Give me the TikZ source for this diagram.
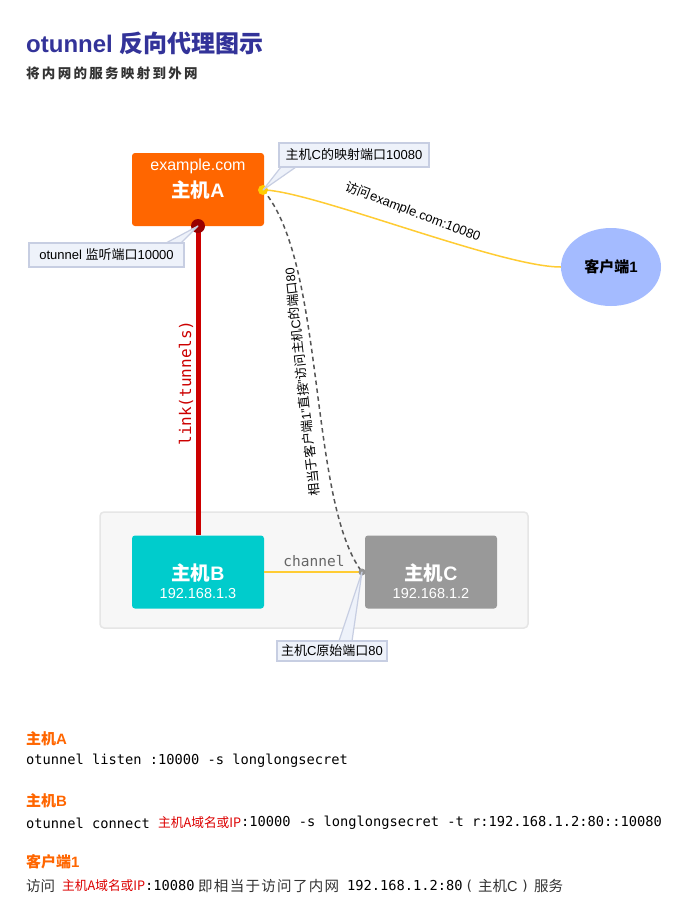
\documentclass[tikz,border=0pt]{standalone}
\usepackage{fontspec}
\usepackage{graphicx}
\setmainfont{Liberation Sans}
\newfontfamily\cjk{Noto Sans CJK SC}
\newfontfamily\cjksp[LetterSpace=17]{Noto Sans CJK SC}
\newfontfamily\cjkwide[LetterSpace=9]{Noto Sans CJK SC}
\newfontfamily\mono{DejaVu Sans Mono}
\usetikzlibrary{shapes.geometric}
\definecolor{titleblue}{HTML}{333399}
\definecolor{subgray}{HTML}{333333}
\definecolor{orangeA}{HTML}{FF6600}
\definecolor{cyanB}{HTML}{00CCCC}
\definecolor{grayC}{HTML}{999999}
\definecolor{clientblue}{HTML}{A4BBFF}
\definecolor{calloutfill}{HTML}{EEF2FA}
\definecolor{calloutdraw}{HTML}{C7CEE2}
\definecolor{linkred}{HTML}{CC0000}
\definecolor{dotred}{HTML}{990000}
\definecolor{ylw}{HTML}{FFCC33}
\definecolor{ydot}{HTML}{FFCC00}
\definecolor{groupfill}{HTML}{F7F7F7}
\definecolor{groupdraw}{HTML}{E6E6E6}
\definecolor{dashgray}{HTML}{555555}
\definecolor{chgray}{HTML}{666666}
\definecolor{txtred}{HTML}{DD0000}
\newcommand\fs[1]{\fontsize{#1}{#1}\selectfont}
\newcommand\redip{\resizebox{83pt}{\height}{\cjk\fs{13}主机A域名或IP}}
\tikzset{
  hostbox/.style={rectangle, rounded corners=3pt, minimum width=132pt, minimum height=73pt, inner sep=0pt},
  hosttxt/.style={inner sep=0pt, text=white},
  callout/.style={rectangle, draw=calloutdraw, fill=calloutfill, line width=1.5pt, inner sep=0pt, minimum height=24pt, font=\fs{13}},
  wedge/.style={draw=calloutdraw, fill=calloutfill, line width=1.2pt, line join=round},
  plain/.style={inner sep=0pt},
  heading/.style={inner sep=0pt, anchor=west, text=orangeA, font=\bfseries\fs{15}},
  code/.style={inner sep=0pt, anchor=west, font=\mono\fs{13.7}, text=black},
}
\begin{document}
\begin{tikzpicture}[x=1pt,y=-1pt]
\useasboundingbox (0,0) rectangle (687,921);
\fill[white] (0,0) rectangle (687,921);

% title
\node[plain, anchor=base west, text=titleblue, font=\bfseries\fs{24}] (title) at (26,52) {otunnel {\cjk 反向代理图示}};
\node[plain, anchor=base west, text=subgray, font=\cjksp\bfseries\fs{13.5}] (subtitle) at (26,78) {将内网的服务映射到外网};

% group
\node[draw=groupdraw, fill=groupfill, rounded corners=4pt, minimum width=428pt, minimum height=116pt, line width=1.5pt] (group) at (314,570) {};

% hosts
\node[hostbox, fill=cyanB] (B) at (198,572) {};
\node[hosttxt, font=\bfseries\fs{19.5}] (Bname) at (198,573) {{\cjk 主机}B};
\node[hosttxt, font=\fs{14.5}] (Bip) at (198,594) {192.168.1.3};

\node[hostbox, fill=grayC] (C) at (431,572) {};
\node[hosttxt, font=\bfseries\fs{19.5}] (Cname) at (431,573) {{\cjk 主机}C};
\node[hosttxt, font=\fs{14.5}] (Cip) at (431,594) {192.168.1.2};

\node[hostbox, fill=orangeA] (A) at (198,189.5) {};
\node[hosttxt, font=\fs{16}] (Aurl) at (198,166) {example.com};
\node[hosttxt, font=\bfseries\fs{19.5}] (Aname) at (198,190) {{\cjk 主机}A};

% client
\node[ellipse, fill=clientblue, minimum width=100pt, minimum height=78pt, inner sep=0pt, font=\bfseries\fs{15}] (client) at (611,267) {{\cjk 客户端}1};

% anchor points
\coordinate (dA) at (198,226);
\coordinate (dY) at (263,190);
\coordinate (dC) at (362,572);

% red link
\draw[linkred, line width=5pt] (dA) -- (B.north);
\node[circle, fill=dotred, minimum size=14pt, inner sep=0pt] (dotA) at (dA) {};
\node[plain, rotate=90, text=linkred, font=\mono\fs{16}] (linklbl) at (186,383) {link(tunnels)};

% channel
\draw[ylw, line width=1.5pt] (B.east) -- (C.west);
\node[plain, text=chgray, font=\mono\fs{14.5}] (chlbl) at (314,561) {channel};

% yellow curve to client
\draw[ylw, line width=1.5pt] (dY) .. controls (310,190) and (500,267) .. (client.west);
\node[plain, rotate=-21, font=\fs{13}] (vlbl) at (413,212) {{\cjk 访问}example.com:10080};

% dashed curve to C
\draw[dashgray, line width=1.5pt, dash pattern=on 4.5pt off 3.5pt] (dY) .. controls (326,262) and (308,500) .. (dC);
\node[plain, rotate=96.4, font=\fs{12.7}] (dlbl) at (302,382) {{\cjk 相当于客户端}1"{\cjk 直接}"{\cjk 访问主机}C{\cjk 的端口}80};

\node[circle, fill=ydot, minimum size=10pt, inner sep=0pt] (dotY) at (dY) {};
\node[circle, fill=gray!85, minimum size=7pt, inner sep=0pt] (dotC) at (dC) {};

% callouts
\draw[wedge] (166,243) -- (dotA.center) -- (181,243) -- cycle;
\node[callout, minimum width=155pt] (co1) at (106.5,255) {otunnel {\cjk 监听端口}10000};

\draw[wedge] (281,167) -- (dotY.center) -- (296,167) -- cycle;
\node[callout, minimum width=150pt] (co2) at (354,155) {{\cjk 主机}C{\cjk 的映射端口}10080};

\draw[wedge] (339,641) -- (dotC.center) -- (352,641) -- cycle;
\node[callout, minimum width=110pt, minimum height=20pt] (co3) at (332,651) {{\cjk 主机}C{\cjk 原始端口}80};

% bottom text
\node[heading] (hA) at (26,739) {{\cjk 主机}A};
\node[code] (cA) at (26,761) {otunnel listen :10000 -s longlongsecret};

\node[heading] (hB) at (26,801) {{\cjk 主机}B};
\node[code] (cB1) at (26,823) {otunnel connect };
\node[plain, anchor=west, text=txtred] (cB2) at (158,823) {\redip};
\node[code] (cB3) at (241,823) {:10000 -s longlongsecret -t r:192.168.1.2:80::10080};

\node[heading] (hK) at (26,862) {{\cjk 客户端}1};
\node[plain, anchor=west, font=\cjk\fs{14.5}, text=subgray] (k1) at (26,886) {访问};
\node[plain, anchor=west, text=txtred] (k2) at (62,886) {\redip};
\node[code] (k3) at (145,886) {:10080};
\node[plain, anchor=west, font=\cjkwide\fs{14.5}, text=subgray] (k4) at (198,886) {即相当于访问了内网};
\node[code] (k5) at (347,886) {192.168.1.2:80};
\node[code, text=subgray] (k6) at (465,886) {(};
\node[plain, anchor=west, font=\fs{14.5}, text=subgray] (k7) at (478,886) {{\cjk 主机}C};
\node[code, text=subgray] (k8) at (521,886) {)};
\node[plain, anchor=west, font=\cjk\fs{14.5}, text=subgray] (k9) at (534,886) {服务};
\end{tikzpicture}
\end{document}
